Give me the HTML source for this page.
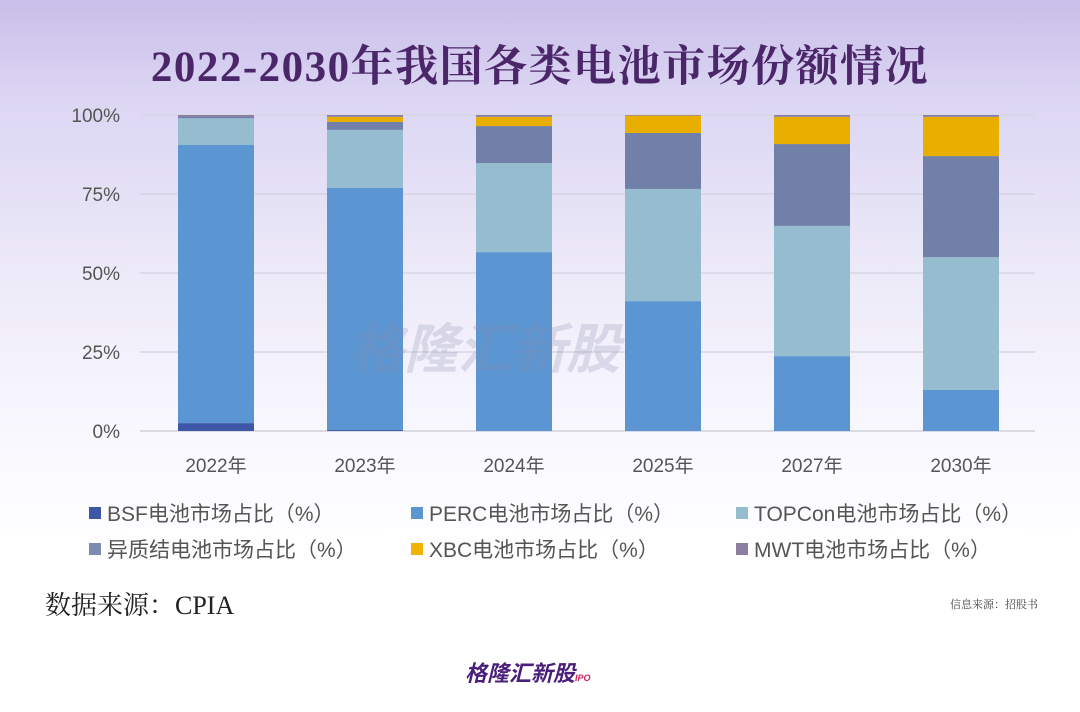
<!DOCTYPE html>
<html><head><meta charset="utf-8">
<style>
html,body{margin:0;padding:0}
body{width:1080px;height:712px;overflow:hidden;position:relative;font-family:"Liberation Sans","Noto Sans CJK SC",sans-serif;
background:linear-gradient(180deg,#c9bfe9 0%,#dcd6f3 14%,#eeebf9 40%,#fbfaff 65%,#ffffff 80%);}
#title{position:absolute;left:0;width:1080px;top:33px;text-align:center;font-family:"Liberation Serif","Noto Serif CJK SC",serif;font-weight:bold;font-size:43px;color:#4b2669;letter-spacing:1.5px}
.leg{position:absolute;font-size:21px;color:#555;white-space:nowrap}
.sw{display:inline-block;width:12px;height:12px;margin-right:6px;vertical-align:2px}
#src{position:absolute;left:45px;top:585px;font-family:"Liberation Serif","Noto Serif CJK SC",serif;font-size:26px;color:#222}
#src2{position:absolute;left:950px;top:596px;font-family:"Liberation Serif","Noto Serif CJK SC",serif;font-size:11px;color:#444}
#logo{position:absolute;left:465px;top:656px;font-size:22px;font-weight:bold;font-style:italic;color:#4a1f7a}
#logo small{font-size:9px;color:#c8245a}
</style></head><body>
<div id="title">2022-2030年我国各类电池市场份额情况</div>
<svg id="chart" width="1080" height="500" style="position:absolute;left:0;top:0"></svg>
<div class="leg" style="left:89px;top:498px"><span class="sw" style="background:#3d56a6"></span>BSF电池市场占比（%）</div>
<div class="leg" style="left:411px;top:498px"><span class="sw" style="background:#5b95d2"></span>PERC电池市场占比（%）</div>
<div class="leg" style="left:736px;top:498px"><span class="sw" style="background:#95bccf"></span>TOPCon电池市场占比（%）</div>
<div class="leg" style="left:89px;top:534px"><span class="sw" style="background:#7a8cb0"></span>异质结电池市场占比（%）</div>
<div class="leg" style="left:411px;top:534px"><span class="sw" style="background:#f0b400"></span>XBC电池市场占比（%）</div>
<div class="leg" style="left:736px;top:534px"><span class="sw" style="background:#8c80a2"></span>MWT电池市场占比（%）</div>
<div id="src">数据来源：CPIA</div>
<div id="src2">信息来源：招股书</div>
<div id="logo">格隆汇新股<small>IPO</small></div>
<script>
const categories=["2022年","2023年","2024年","2025年","2027年","2030年"];
const seriesNames=["BSF","PERC","TOPCon","异质结","XBC","MWT"];
const bsf=[2.5,0.3,0,0,0,0];
const perc=[88,76.6,56.6,41.1,23.7,13];
const topcon=[8.5,18.4,28.2,35.5,41.2,42];
const hjt=[0.5,2.5,11.7,17.7,25.9,32];
const xbc=[0,1.6,2.9,5.5,8.6,12.4];
const mwt=[0.5,0.6,0.6,0.2,0.6,0.6];
const tickValues=[0,25,50,75,100];
const tickLabels=["0%","25%","50%","75%","100%"];
const colors=["#3d56a6","#5b95d2","#95bccf","#7080a8","#e8ae00","#8c80a2"];
const series=[bsf,perc,topcon,hjt,xbc,mwt];
const NS="http://www.w3.org/2000/svg";
const svg=document.getElementById('chart');
const y0=431,y1=115,xl=140,xr=1035,step=149,first=216,bw=76;
const yScale=v=>y0-(v/100)*(y0-y1);
const xScale=i=>first+i*step;
tickValues.forEach((t,i)=>{
  const l=document.createElementNS(NS,'line');
  
  
  l.setAttribute('x1',xl);l.setAttribute('x2',xr);
  l.setAttribute('y1',yScale(t));l.setAttribute('y2',yScale(t));
  l.setAttribute('stroke',t===0?'#cfd0dc':'#d6d6e4');l.setAttribute('stroke-width','1.5');
  svg.appendChild(l);
  const tx=document.createElementNS(NS,'text');
  
  
  tx.setAttribute('x',120);tx.setAttribute('y',yScale(t)+7);
  tx.setAttribute('text-anchor','end');tx.setAttribute('font-size','19');tx.setAttribute('fill','#555');
  tx.textContent=tickLabels[i];
  svg.appendChild(tx);
});
categories.forEach((c,i)=>{
  let acc=0;
  series.forEach((s,k)=>{
    const v=s[i];
    if(v>0){
      const r=document.createElementNS(NS,'rect');
      
      
      r.setAttribute('x',xScale(i)-bw/2);r.setAttribute('width',bw);
      r.setAttribute('y',yScale(acc+v));r.setAttribute('height',yScale(acc)-yScale(acc+v));
      r.setAttribute('fill',colors[k]);
      svg.appendChild(r);
    }
    acc+=v;
  });
  const tx=document.createElementNS(NS,'text');
  
  
  tx.setAttribute('x',xScale(i));tx.setAttribute('y',472);
  tx.setAttribute('text-anchor','middle');tx.setAttribute('font-size','19');tx.setAttribute('fill','#555');
  tx.textContent=c;
  svg.appendChild(tx);
});
const wm=document.createElementNS(NS,'text');


wm.setAttribute('x',350);wm.setAttribute('y',368);wm.setAttribute('font-size','54');wm.setAttribute('font-weight','bold');
wm.setAttribute('font-style','italic');wm.setAttribute('fill','#8a8fb0');wm.setAttribute('opacity','0.25');
wm.textContent='格隆汇新股';
svg.appendChild(wm);
</script>
</body></html>
